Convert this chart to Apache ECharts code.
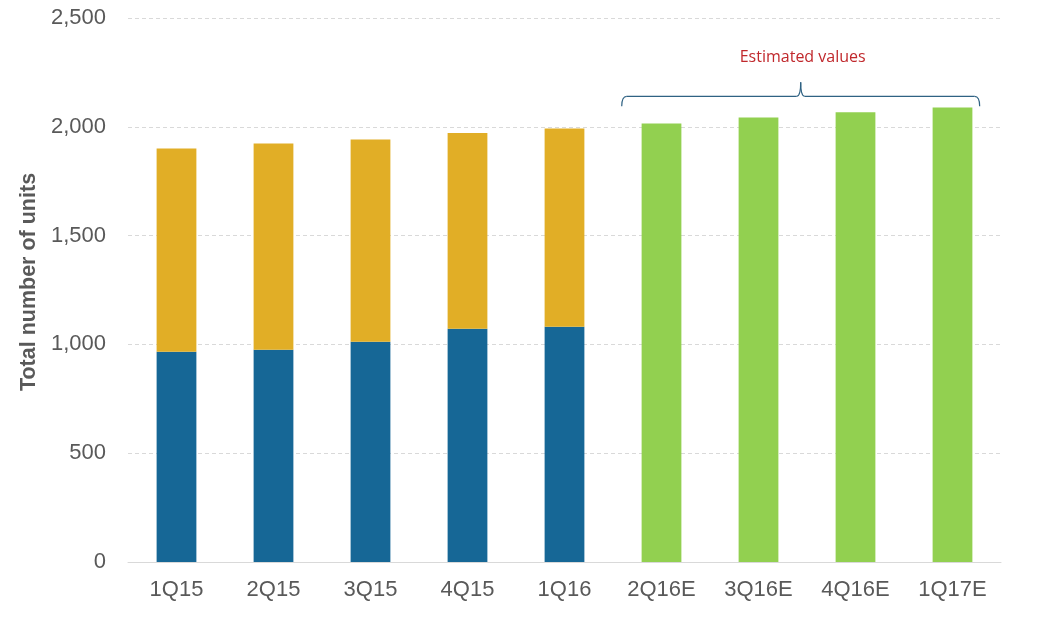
<!DOCTYPE html>
<html>
<head>
<meta charset="utf-8">
<script src="https://cdn.jsdelivr.net/npm/echarts@6/dist/echarts.min.js"></script>
<style>
html,body{margin:0;padding:0;background:#fff;}
#chart{width:1050px;height:628px;}
</style>
</head>
<body>
<div id="chart"></div>
<script>
var categories = ['1Q15','2Q15','3Q15','4Q15','1Q16','2Q16E','3Q16E','4Q16E','1Q17E'];
var blueValues = [966, 975, 1012, 1072, 1081, null, null, null, null];
var yellowValues = [934, 948, 930, 899, 911, null, null, null, null];
var greenValues = [null, null, null, null, null, 2015, 2043, 2067, 2089];
var yTicks = [0, 500, 1000, 1500, 2000, 2500];
var annotationText = 'Estimated values';
var braceFirst = '2Q16E';
var braceLast = '1Q17E';
var braceLevel = 2140;

var chart = echarts.init(document.getElementById('chart'));
var txt = '#595959';
var font = 'Liberation Sans, Arial, sans-serif';
var option = {
  animation: false,
  backgroundColor: '#ffffff',
  grid: {left: 128, right: 49, top: 18, bottom: 66, containLabel: false},
  xAxis: {
    type: 'category',
    data: categories,
    axisLine: {lineStyle: {color: '#d9d9d9', width: 1}},
    axisTick: {show: false},
    axisLabel: {color: txt, fontSize: 22, fontFamily: font, margin: 17}
  },
  yAxis: {
    type: 'value',
    min: yTicks[0],
    max: yTicks[yTicks.length - 1],
    interval: yTicks[1] - yTicks[0],
    name: 'Total number of units',
    nameLocation: 'middle',
    nameGap: 84,
    nameTextStyle: {color: txt, fontSize: 21.5, fontWeight: 'bold', fontFamily: font, padding: [0, 0, 0, 16]},
    axisLine: {show: false},
    axisTick: {show: false},
    axisLabel: {
      color: txt, fontSize: 22, fontFamily: font, margin: 22,
      formatter: function (v) { return v.toLocaleString('en-US'); }
    },
    splitLine: {lineStyle: {color: '#d9d9d9', type: [4, 3], width: 1}}
  },
  series: [
    {type: 'bar', stack: 'a', data: blueValues, barWidth: '41%', itemStyle: {color: '#166796'}},
    {type: 'bar', stack: 'a', data: yellowValues, barWidth: '41%', itemStyle: {color: '#e1ae26'}},
    {type: 'bar', stack: 'a', data: greenValues, barWidth: '41%', itemStyle: {color: '#92d050'}}
  ]
};
chart.setOption(option);

// Brace annotation placed from the axis scales
var firstIdx = categories.indexOf(braceFirst);
var lastIdx = categories.indexOf(braceLast);
var p1 = chart.convertToPixel({gridIndex: 0}, [firstIdx, braceLevel]);
var p2 = chart.convertToPixel({gridIndex: 0}, [lastIdx, braceLevel]);
var band = chart.convertToPixel({gridIndex: 0}, [1, 0])[0] - chart.convertToPixel({gridIndex: 0}, [0, 0])[0];
var x1 = p1[0] - band * 0.41;
var x2 = p2[0] + band * 0.28;
var y = p1[1];
var xm = (x1 + x2) / 2;
var st = {stroke: '#2f6283', lineWidth: 1.2, fill: null};
chart.setOption({
  graphic: [
    {type: 'bezierCurve', shape: {x1: x1, y1: y + 10, x2: x1 + 5, y2: y, cpx1: x1, cpy1: y}, style: st},
    {type: 'line', shape: {x1: x1 + 5, y1: y, x2: xm - 4, y2: y}, style: st},
    {type: 'bezierCurve', shape: {x1: xm - 4, y1: y, x2: xm, y2: y - 14, cpx1: xm, cpy1: y}, style: st},
    {type: 'bezierCurve', shape: {x1: xm, y1: y - 14, x2: xm + 4, y2: y, cpx1: xm, cpy1: y}, style: st},
    {type: 'line', shape: {x1: xm + 4, y1: y, x2: x2 - 5, y2: y}, style: st},
    {type: 'bezierCurve', shape: {x1: x2 - 5, y1: y, x2: x2, y2: y + 10, cpx1: x2, cpy1: y}, style: st},
    {type: 'text', x: xm + 2, y: y - 39, style: {text: annotationText, fill: '#c0282c', fontSize: 16, fontFamily: 'Open Sans, Liberation Sans, sans-serif', align: 'center', verticalAlign: 'middle'}}
  ]
});
</script>
</body>
</html>
